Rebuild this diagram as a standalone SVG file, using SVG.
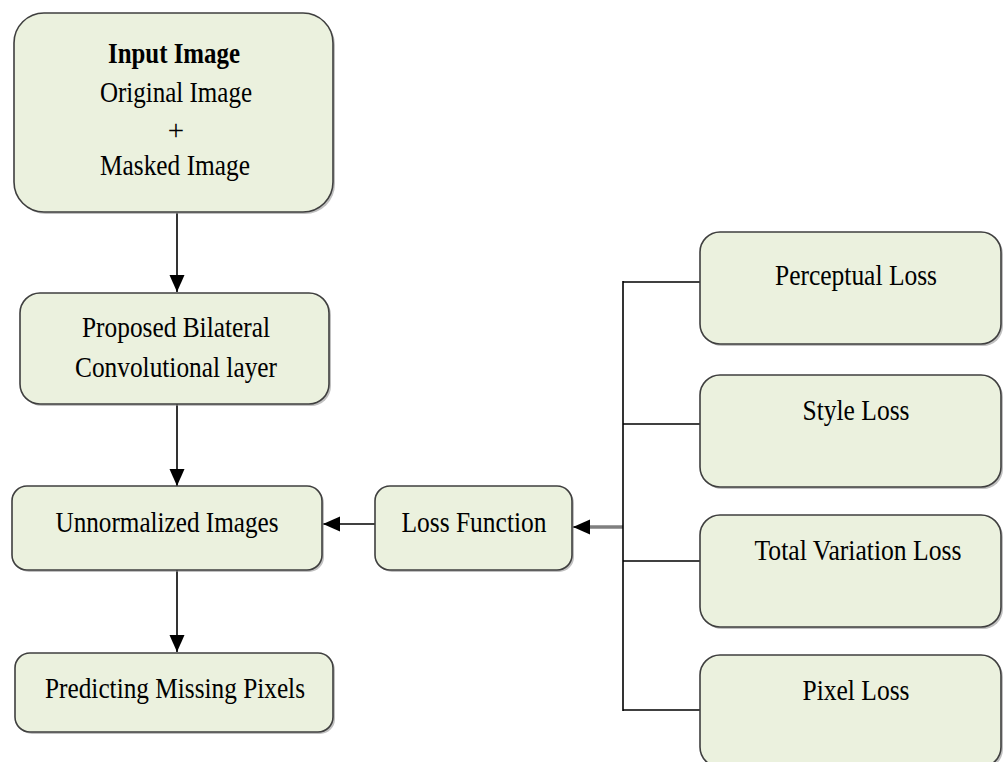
<svg xmlns="http://www.w3.org/2000/svg" width="1003" height="762" viewBox="0 0 1003 762">
  <style>
    .box { fill: #ebf1de; stroke: #3f3f3f; stroke-width: 1.6; }
    .shadow { fill: #8c8c8c; opacity: 0.55; }
    .lbl { font-family: "Liberation Serif", "Times New Roman", serif; font-size: 29px; fill: #000; text-anchor: middle; }
    .bold { font-weight: bold; }
    .wire { stroke: #000; stroke-width: 1.6; fill: none; }
    .feed { stroke: #7f7f7f; stroke-width: 3.5; fill: none; }
  </style>
  <defs>
    <marker id="head" markerUnits="userSpaceOnUse" markerWidth="18" markerHeight="16" refX="17" refY="7.5" orient="auto">
      <path d="M0,0 L17,7.5 L0,15 z" fill="#000"/>
    </marker>
  </defs>

  <rect width="1003" height="762" fill="#fff"/>

  <!-- connectors -->
  <g id="connectors">
    <line class="wire" x1="177" y1="213" x2="177" y2="292" marker-end="url(#head)"/>
    <line class="wire" x1="177" y1="404" x2="177" y2="486" marker-end="url(#head)"/>
    <line class="wire" x1="177" y1="570" x2="177" y2="652" marker-end="url(#head)"/>
    <line class="wire" x1="375" y1="524" x2="323" y2="524" marker-end="url(#head)"/>
    <line class="feed" x1="623" y1="527" x2="582" y2="527"/>
    <line class="wire" x1="590" y1="527" x2="573" y2="527" marker-end="url(#head)"/>
    <line class="wire" x1="623" y1="281" x2="623" y2="711"/>
    <line class="wire" x1="623" y1="282" x2="700" y2="282"/>
    <line class="wire" x1="623" y1="424" x2="700" y2="424"/>
    <line class="wire" x1="623" y1="561" x2="700" y2="561"/>
    <line class="wire" x1="623" y1="710" x2="700" y2="710"/>
  </g>

  <g id="input-image">
    <rect class="shadow" x="16" y="15" width="319" height="199" rx="30"/>
    <rect class="box" x="14" y="13" width="319" height="199" rx="30"/>
    <text class="lbl bold" x="174" y="63" textLength="132" lengthAdjust="spacingAndGlyphs">Input Image</text>
    <text class="lbl" x="176" y="102" textLength="152" lengthAdjust="spacingAndGlyphs">Original Image</text>
    <text class="lbl" x="176" y="140">+</text>
    <text class="lbl" x="175" y="175" textLength="150" lengthAdjust="spacingAndGlyphs">Masked Image</text>
  </g>

  <g id="bilateral-conv">
    <rect class="shadow" x="22" y="295" width="309" height="111" rx="20"/>
    <rect class="box" x="20" y="293" width="309" height="111" rx="20"/>
    <text class="lbl" x="176" y="337" textLength="188" lengthAdjust="spacingAndGlyphs">Proposed Bilateral</text>
    <text class="lbl" x="176" y="377" textLength="202" lengthAdjust="spacingAndGlyphs">Convolutional layer</text>
  </g>

  <g id="unnormalized">
    <rect class="shadow" x="14" y="488" width="310" height="84" rx="15"/>
    <rect class="box" x="12" y="486" width="310" height="84" rx="15"/>
    <text class="lbl" x="167" y="532" textLength="223" lengthAdjust="spacingAndGlyphs">Unnormalized Images</text>
  </g>

  <g id="predicting">
    <rect class="shadow" x="17" y="655" width="318" height="79" rx="15"/>
    <rect class="box" x="15" y="653" width="318" height="79" rx="15"/>
    <text class="lbl" x="175" y="698" textLength="260" lengthAdjust="spacingAndGlyphs">Predicting Missing Pixels</text>
  </g>

  <g id="loss-function">
    <rect class="shadow" x="377" y="488" width="197" height="84" rx="15"/>
    <rect class="box" x="375" y="486" width="197" height="84" rx="15"/>
    <text class="lbl" x="474" y="532" textLength="145" lengthAdjust="spacingAndGlyphs">Loss Function</text>
  </g>

  <g id="perceptual-loss">
    <rect class="shadow" x="702" y="234" width="301" height="112" rx="20"/>
    <rect class="box" x="700" y="232" width="301" height="112" rx="20"/>
    <text class="lbl" x="856" y="285" textLength="162" lengthAdjust="spacingAndGlyphs">Perceptual Loss</text>
  </g>

  <g id="style-loss">
    <rect class="shadow" x="702" y="377" width="301" height="112" rx="20"/>
    <rect class="box" x="700" y="375" width="301" height="112" rx="20"/>
    <text class="lbl" x="856" y="420" textLength="107" lengthAdjust="spacingAndGlyphs">Style Loss</text>
  </g>

  <g id="total-variation-loss">
    <rect class="shadow" x="702" y="517" width="301" height="112" rx="20"/>
    <rect class="box" x="700" y="515" width="301" height="112" rx="20"/>
    <text class="lbl" x="858" y="560" textLength="207" lengthAdjust="spacingAndGlyphs">Total Variation Loss</text>
  </g>

  <g id="pixel-loss">
    <rect class="shadow" x="702" y="657" width="301" height="112" rx="20"/>
    <rect class="box" x="700" y="655" width="301" height="112" rx="20"/>
    <text class="lbl" x="856" y="700" textLength="107" lengthAdjust="spacingAndGlyphs">Pixel Loss</text>
  </g>
</svg>
